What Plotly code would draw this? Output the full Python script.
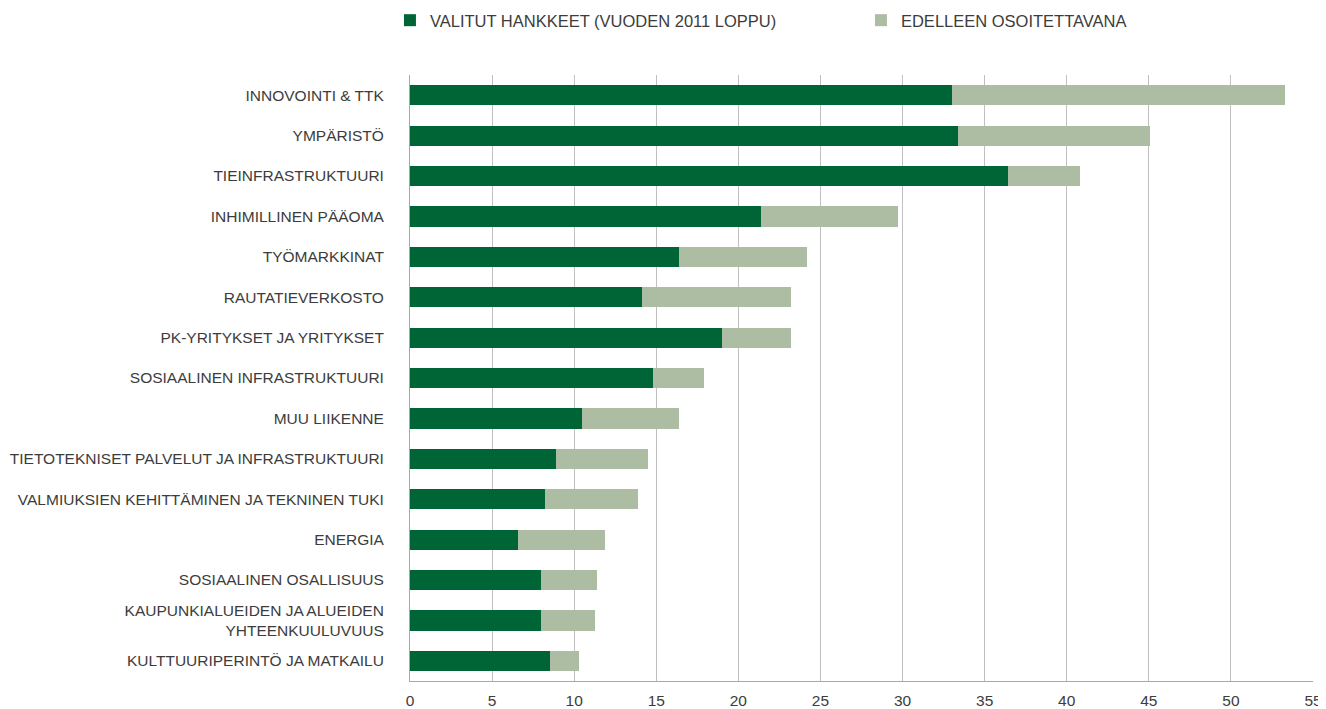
import plotly.graph_objects as go

categories = [
    "INNOVOINTI & TTK",
    "YMPÄRISTÖ",
    "TIEINFRASTRUKTUURI",
    "INHIMILLINEN PÄÄOMA",
    "TYÖMARKKINAT",
    "RAUTATIEVERKOSTO",
    "PK-YRITYKSET JA YRITYKSET",
    "SOSIAALINEN INFRASTRUKTUURI",
    "MUU LIIKENNE",
    "TIETOTEKNISET PALVELUT JA INFRASTRUKTUURI",
    "VALMIUKSIEN KEHITTÄMINEN JA TEKNINEN TUKI",
    "ENERGIA",
    "SOSIAALINEN OSALLISUUS",
    "KAUPUNKIALUEIDEN JA ALUEIDEN<br>YHTEENKUULUVUUS",
    "KULTTUURIPERINTÖ JA MATKAILU",
]
selected = [33.0, 33.4, 36.4, 21.4, 16.4, 14.1, 19.0, 14.8, 10.5, 8.9, 8.2, 6.6, 8.0, 7.95, 8.55]
remaining = [20.3, 11.7, 4.4, 8.3, 7.8, 9.1, 4.2, 3.1, 5.9, 5.6, 5.7, 5.25, 3.4, 3.3, 1.75]
series_names = ["VALITUT HANKKEET (VUODEN 2011 LOPPU)", "EDELLEEN OSOITETTAVANA"]
x_ticks = list(range(0, 56, 5))

FONT = "Liberation Sans, Arial, sans-serif"
TXT = "#3c3c3c"
FS = 15.5

fig = go.Figure()
fig.add_trace(go.Bar(y=categories, x=selected, orientation="h", name=series_names[0],
                     marker=dict(color="#006536", line=dict(width=0))))
fig.add_trace(go.Bar(y=categories, x=remaining, orientation="h", name=series_names[1],
                     marker=dict(color="#ADBDA3", line=dict(width=0))))

fig.update_layout(
    barmode="stack",
    bargap=0.5,
    width=1318, height=701,
    margin=dict(l=402, r=13, t=67, b=28, autoexpand=False),
    paper_bgcolor="white", plot_bgcolor="white",
    font=dict(family=FONT, size=FS, color=TXT),
    legend=dict(orientation="h", x=-0.0222, xanchor="left", y=1.09, yanchor="middle",
                font=dict(size=16.5, color=TXT), entrywidth=426, entrywidthmode="pixels",
                traceorder="normal", itemwidth=30),
    showlegend=True,
)
fig.update_xaxes(range=[0, 55], tickvals=x_ticks, ticktext=[str(v) for v in x_ticks],
                 showgrid=True, gridcolor="#C0C0C0", gridwidth=1,
                 showline=True, linecolor="#A8A8A8", linewidth=1, automargin=False,
                 zeroline=False, ticks="", ticklabelstandoff=5, tickfont=dict(size=FS, color=TXT))
fig.update_yaxes(categoryorder="array", categoryarray=categories, autorange="reversed",
                 showgrid=False, showline=True, linecolor="#A8A8A8", linewidth=1, automargin=False,
                 ticks="", ticklabelstandoff=22, tickfont=dict(size=FS, color=TXT))

fig.write_html("out.html")
